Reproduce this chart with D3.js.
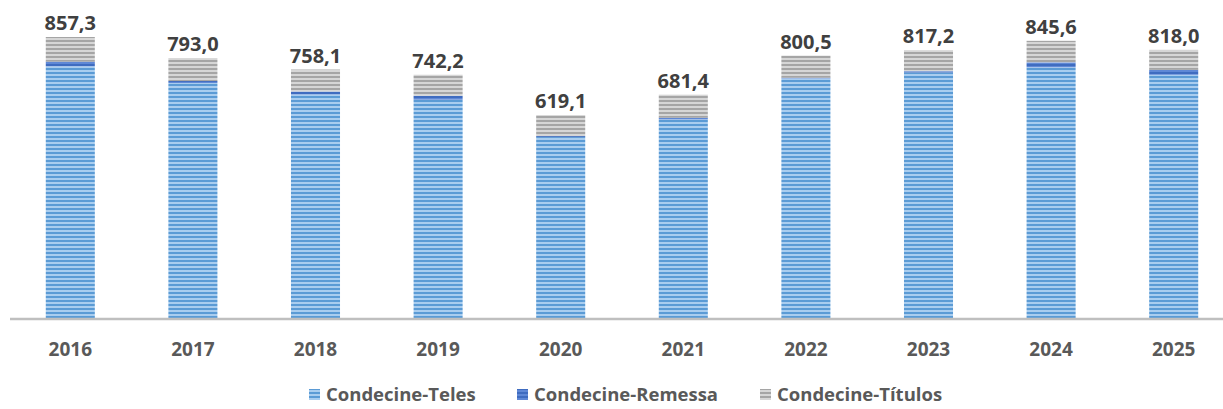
<!DOCTYPE html>
<html>
<head>
<meta charset="utf-8">
<script src="https://cdn.jsdelivr.net/npm/d3@7"></script>
<style>
  body { margin: 0; background: #fff; }
  svg { display: block; font-family: "Open Sans", Lato, sans-serif; }
</style>
</head>
<body>
<div id="chart"></div>
<script>
// data (values in the stack order, bottom to top)
const years = ["2016","2017","2018","2019","2020","2021","2022","2023","2024","2025"];
const teles = [768, 717, 682, 666, 552, 606, 731, 749, 765, 742];
const remessa = [14, 6, 9, 12, 3, 5, 2, 4, 15, 15];
const titulos = [75.3, 70, 67.1, 64.2, 64.1, 70.4, 67.5, 64.2, 65.6, 61];
const totals = ["857,3","793,0","758,1","742,2","619,1","681,4","800,5","817,2","845,6","818,0"];
const seriesNames = ["Condecine-Teles","Condecine-Remessa","Condecine-Títulos"];

const width = 1223, height = 409;
const baseY = 318;

const svg = d3.select("#chart").append("svg")
  .attr("width", width)
  .attr("height", height);

// striped fills, like the office chart
const defs = svg.append("defs");
const fills = [
  {id: "pTeles", dark: "#5b9bd5", light: "#a9cdef"},
  {id: "pRemessa", dark: "#3f6cc0", light: "#5f88d6"},
  {id: "pTitulos", dark: "#a5a5a5", light: "#d6d6d6"}
];
fills.forEach(f => {
  const p = defs.append("pattern")
    .attr("id", f.id)
    .attr("patternUnits", "userSpaceOnUse")
    .attr("width", 8).attr("height", 4);
  p.append("rect").attr("width", 8).attr("height", 4).attr("fill", f.light);
  p.append("rect").attr("y", 0).attr("width", 8).attr("height", 2).attr("fill", f.dark);
});

const x = d3.scaleBand()
  .domain(years)
  .range([9, 1235])
  .paddingInner(0.6)
  .paddingOuter(0.3);

const y = d3.scaleLinear()
  .domain([0, 857.3])
  .range([baseY, 37]);

const table = years.map((yr, i) => ({year: yr, teles: teles[i], remessa: remessa[i], titulos: titulos[i]}));
const stack = d3.stack().keys(["teles","remessa","titulos"]);
const layers = stack(table);

svg.append("g")
  .selectAll("g")
  .data(layers)
  .join("g")
    .attr("fill", (d, i) => `url(#${fills[i].id})`)
  .selectAll("rect")
  .data(d => d)
  .join("rect")
    .attr("x", d => x(d.data.year))
    .attr("width", x.bandwidth())
    .attr("y", d => y(d[1]))
    .attr("height", d => y(d[0]) - y(d[1]));

// baseline
svg.append("line")
  .attr("x1", 10).attr("x2", width)
  .attr("y1", baseY + 1).attr("y2", baseY + 1)
  .attr("stroke", "#bfbfbf")
  .attr("stroke-width", 2.5);

// total labels
svg.append("g")
  .selectAll("text")
  .data(table)
  .join("text")
    .attr("x", d => x(d.year) + x.bandwidth() / 2)
    .attr("y", (d, i) => y(teles[i] + remessa[i] + titulos[i]) - 7)
    .attr("text-anchor", "middle")
    .attr("font-size", 20)
    .attr("font-weight", "bold")
    .attr("fill", "#404040")
    .text((d, i) => totals[i]);

// year labels
svg.append("g")
  .selectAll("text")
  .data(years)
  .join("text")
    .attr("x", d => x(d) + x.bandwidth() / 2)
    .attr("y", 356)
    .attr("text-anchor", "middle")
    .attr("font-size", 19)
    .attr("font-weight", "bold")
    .attr("fill", "#595959")
    .text(d => d);

// legend
const legendX = [309, 517, 760];
const legend = svg.append("g")
  .selectAll("g")
  .data(seriesNames)
  .join("g")
    .attr("transform", (d, i) => `translate(${legendX[i]},388)`);
legend.append("rect")
  .attr("width", 11).attr("height", 11)
  .attr("y", 1)
  .attr("fill", (d, i) => `url(#${fills[i].id})`);
legend.append("text")
  .attr("x", 17)
  .attr("y", 13)
  .attr("font-size", 18.5)
  .attr("font-weight", "bold")
  .attr("fill", "#595959")
  .text(d => d);
</script>
</body>
</html>
